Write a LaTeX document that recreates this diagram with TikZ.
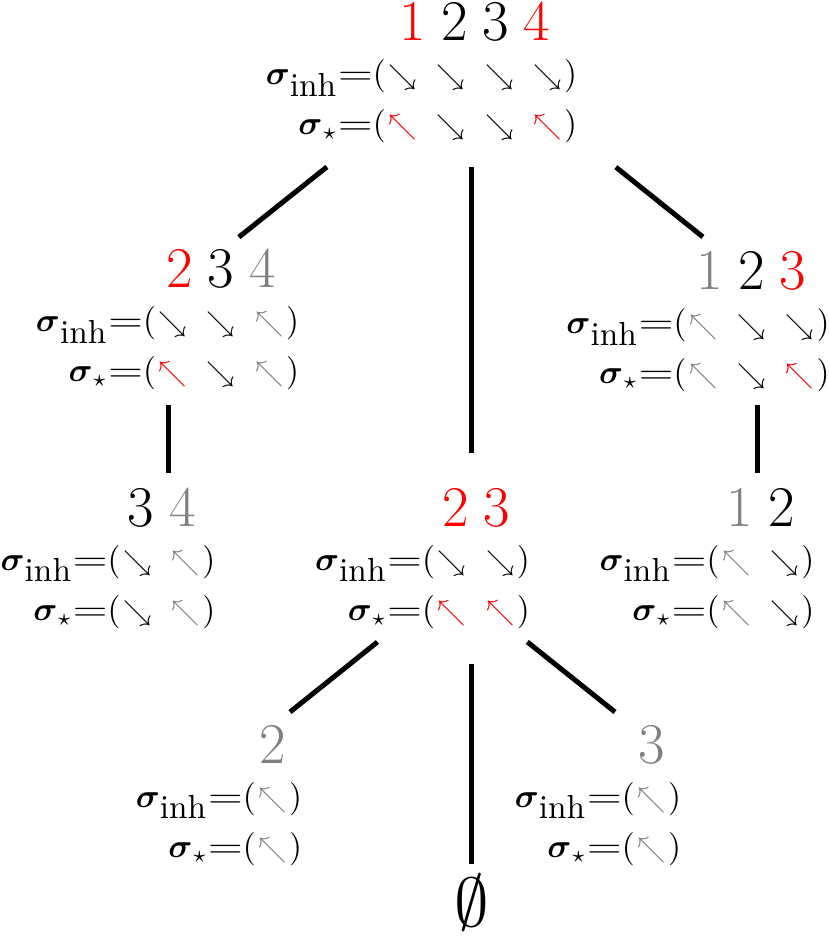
\documentclass[tikz,border=0pt]{standalone}
\usepackage{amsmath,amssymb}
\usepackage{graphicx}
\usepackage{tikz}
\usetikzlibrary{positioning,calc}

\newcommand{\rc}[1]{\textcolor{red}{#1}}
\newcommand{\gc}[1]{\textcolor{gray}{#1}}
\newcommand{\gp}{\hspace{4.5pt}}
\newcommand{\dn}{\makebox[10pt]{\scalebox{0.85}{$\searrow$}}}
\newcommand{\up}{\makebox[10pt]{\scalebox{0.85}{$\nwarrow$}}}
\newcommand{\eq}{\scalebox{1.35}[1]{$=$}}
\newcommand{\labinh}{\llap{$\boldsymbol{\sigma}_{\mbox{inh}}\eq$}}
\newcommand{\labst}{\llap{$\boldsymbol{\sigma}_{\star}\eq$}}
\newcommand{\vx}[3]{\begin{tabular}[t]{@{}c@{}}{\LARGE #1}\\[1.2pt]\labinh$(#2)$\\[3pt]\labst$(#3)$\end{tabular}}

\begin{document}
\begin{tikzpicture}[x=0.3pt, y=-0.3pt,
  vtx/.style={anchor=base, inner sep=0pt},
  link/.style={line width=1.5pt}]
\useasboundingbox (0,0) rectangle (829,938);

% vertices
\node[vtx] (n1234) at (475,41) {\vx{\rc1\gp2\gp3\gp\rc4}{\dn\gp\dn\gp\dn\gp\dn}{\rc\up\gp\dn\gp\dn\gp\rc\up}};
\node[vtx] (n234) at (221,288) {\vx{\rc2\gp3\gp\gc4}{\dn\gp\dn\gp\gc\up}{\rc\up\gp\dn\gp\gc\up}};
\node[vtx] (n123) at (751.5,290) {\vx{\gc1\gp2\gp\rc3}{\gc\up\gp\dn\gp\dn}{\gc\up\gp\dn\gp\rc\up}};
\node[vtx] (n34) at (161.5,526) {\vx{3\gp\gc4}{\dn\gp\gc\up}{\dn\gp\gc\up}};
\node[vtx] (n23) at (476,526) {\vx{\rc2\gp\rc3}{\dn\gp\dn}{\rc\up\gp\rc\up}};
\node[vtx] (n12) at (760.5,526) {\vx{\gc1\gp2}{\gc\up\gp\dn}{\gc\up\gp\dn}};
\node[vtx] (n2) at (272.5,763) {\vx{\gc2}{\gc\up}{\gc\up}};
\node[vtx] (n3) at (651.5,763) {\vx{\gc3}{\gc\up}{\gc\up}};
\node[vtx] (empty) at (471.5,926) {\huge$\emptyset$};

% branch points
\coordinate (h1234) at (471.5,51.5);
\coordinate (h234) at (168,293.7);
\coordinate (h123) at (757,280.3);
\coordinate (h23) at (452.3,582);
\coordinate (h2) at (290,712);
\coordinate (h3) at (615,712);

\draw[link,shorten <=55.5pt,shorten >=27.2pt] (h1234) -- (h234);
\draw[link,shorten <=55.5pt,shorten >=20.8pt] (h1234) -- (h123);
\draw[link,shorten <=34.7pt,shorten >=10.2pt] (h1234) -- (h1234 |- n23.north);
\draw[link,shorten <=33.4pt,shorten >=4.2pt] (h234) -- (h234 |- n34.north);
\draw[link,shorten <=37.4pt,shorten >=4.2pt] (h123) -- (h123 |- n12.north);
\draw[link,shorten <=28.8pt] (h23) -- (h2);
\draw[link,shorten <=28.8pt] (h23) -- (h3);
\draw[link,shorten <=9.3pt,shorten >=2.7pt] (n23.south -| empty) -- (empty.north);
\end{tikzpicture}
\end{document}
